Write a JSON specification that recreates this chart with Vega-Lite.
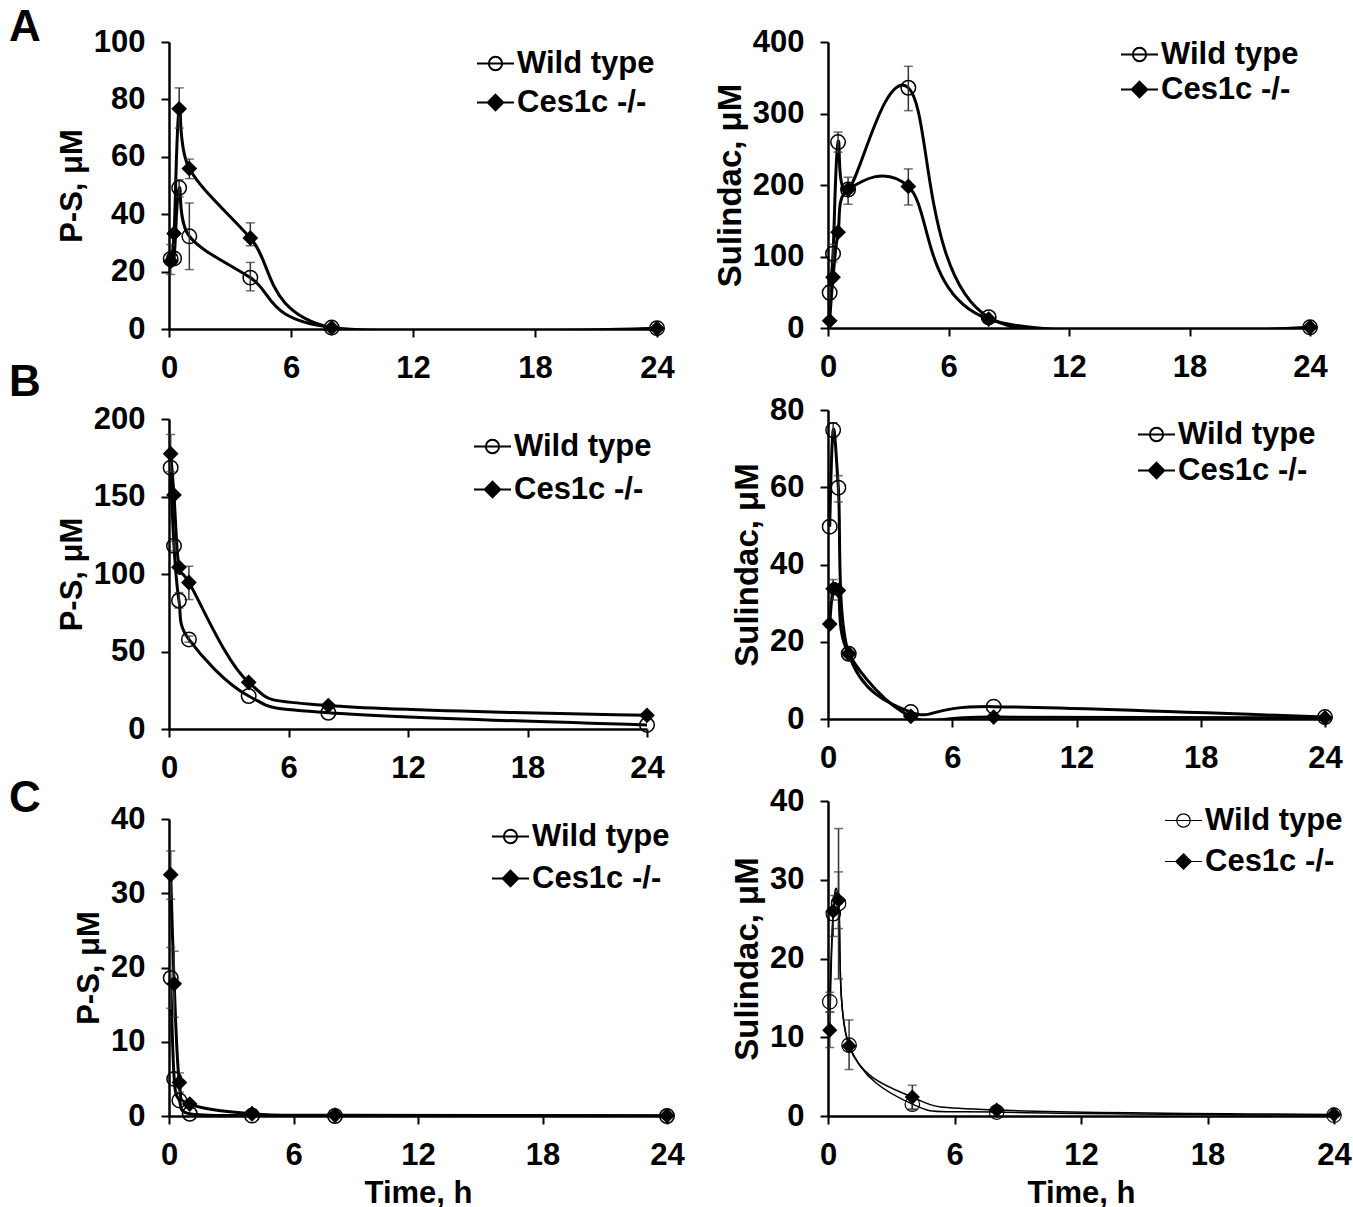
{
  "$schema": "https://vega.github.io/schema/vega-lite/v6.json",
  "padding": {"left": 9, "top": 6, "right": 5, "bottom": 2},
  "config": {
    "font": "Liberation Sans",
    "view": {"stroke": null},
    "axis": {"labelFont": "Liberation Sans", "labelFontWeight": "bold", "labelFontSize": 31, "labelColor": "black", "labelFlush": false, "titleFont": "Liberation Sans", "titleFontWeight": "bold", "titleFontSize": 31, "titleColor": "black", "domainColor": "black", "domainWidth": 2.5, "tickColor": "black", "tickWidth": 2, "tickSize": 8, "grid": false, "labelPadding": 16, "titlePadding": 5},
    "legend": {"title": null, "orient": "none", "padding": 0, "symbolSize": 1369, "symbolStrokeWidth": 2, "labelFont": "Liberation Sans", "labelFontWeight": "bold", "labelFontSize": 31, "labelColor": "black", "labelOffset": 2},
    "title": {"font": "Liberation Sans", "fontWeight": "bold", "fontSize": 44, "color": "black", "anchor": "start", "frame": "group", "dx": -160}
  },
  "datasets": {
    "A1": [
      {"t": 0.083, "g": "Wild type", "v": 24.4, "lo": 19, "hi": 29.4},
      {"t": 0.25, "g": "Wild type", "v": 24.6},
      {"t": 0.5, "g": "Wild type", "v": 49.2, "lo": 46, "hi": 52},
      {"t": 1, "g": "Wild type", "v": 32.3, "lo": 20.7, "hi": 43.9},
      {"t": 4, "g": "Wild type", "v": 17.9, "lo": 13.3, "hi": 23.2},
      {"t": 8, "g": "Wild type", "v": 0.5},
      {"t": 24, "g": "Wild type", "v": 0.3},
      {"t": 0.083, "g": "Ces1c -/-", "v": 23.6},
      {"t": 0.25, "g": "Ces1c -/-", "v": 33.3},
      {"t": 0.5, "g": "Ces1c -/-", "v": 76.7, "lo": 70, "hi": 84},
      {"t": 1, "g": "Ces1c -/-", "v": 55.9, "lo": 52.4, "hi": 59.2},
      {"t": 4, "g": "Ces1c -/-", "v": 31.7, "lo": 29, "hi": 37},
      {"t": 8, "g": "Ces1c -/-", "v": 0.4},
      {"t": 24, "g": "Ces1c -/-", "v": 0.2}
    ],
    "A2": [
      {"t": 0.083, "g": "Wild type", "v": 49.5, "lo": 40, "hi": 59},
      {"t": 0.25, "g": "Wild type", "v": 104, "lo": 92, "hi": 117},
      {"t": 0.5, "g": "Wild type", "v": 260, "lo": 246, "hi": 274},
      {"t": 1, "g": "Wild type", "v": 193.6, "lo": 173, "hi": 211},
      {"t": 4, "g": "Wild type", "v": 336, "lo": 304, "hi": 366},
      {"t": 8, "g": "Wild type", "v": 15},
      {"t": 24, "g": "Wild type", "v": 1},
      {"t": 0.083, "g": "Ces1c -/-", "v": 10},
      {"t": 0.25, "g": "Ces1c -/-", "v": 71},
      {"t": 0.5, "g": "Ces1c -/-", "v": 134},
      {"t": 1, "g": "Ces1c -/-", "v": 193.6},
      {"t": 4, "g": "Ces1c -/-", "v": 198, "lo": 172, "hi": 222.5},
      {"t": 8, "g": "Ces1c -/-", "v": 12.5},
      {"t": 24, "g": "Ces1c -/-", "v": 1}
    ],
    "B1": [
      {"t": 0.083, "g": "Wild type", "v": 168.6},
      {"t": 0.25, "g": "Wild type", "v": 118.2, "lo": 115, "hi": 121},
      {"t": 0.5, "g": "Wild type", "v": 82.9, "lo": 78, "hi": 88},
      {"t": 1, "g": "Wild type", "v": 57.8, "lo": 56, "hi": 60},
      {"t": 4, "g": "Wild type", "v": 21.3},
      {"t": 8, "g": "Wild type", "v": 10.5},
      {"t": 24, "g": "Wild type", "v": 2.6},
      {"t": 0.083, "g": "Ces1c -/-", "v": 177.6, "lo": 166, "hi": 190},
      {"t": 0.25, "g": "Ces1c -/-", "v": 151},
      {"t": 0.5, "g": "Ces1c -/-", "v": 104.4},
      {"t": 1, "g": "Ces1c -/-", "v": 94.5, "lo": 83.5, "hi": 105},
      {"t": 4, "g": "Ces1c -/-", "v": 30.1},
      {"t": 8, "g": "Ces1c -/-", "v": 15.1},
      {"t": 24, "g": "Ces1c -/-", "v": 8.8}
    ],
    "B2": [
      {"t": 0.083, "g": "Wild type", "v": 49.8},
      {"t": 0.25, "g": "Wild type", "v": 74.8, "lo": 73, "hi": 76.7},
      {"t": 0.5, "g": "Wild type", "v": 59.9, "lo": 56.2, "hi": 63},
      {"t": 1, "g": "Wild type", "v": 16.9},
      {"t": 4, "g": "Wild type", "v": 1.8},
      {"t": 8, "g": "Wild type", "v": 3.2},
      {"t": 24, "g": "Wild type", "v": 0.5},
      {"t": 0.083, "g": "Ces1c -/-", "v": 24.6},
      {"t": 0.25, "g": "Ces1c -/-", "v": 33.7, "lo": 30.8, "hi": 36.1},
      {"t": 0.5, "g": "Ces1c -/-", "v": 33.3},
      {"t": 1, "g": "Ces1c -/-", "v": 16.9},
      {"t": 4, "g": "Ces1c -/-", "v": 0.7},
      {"t": 8, "g": "Ces1c -/-", "v": 0.5},
      {"t": 24, "g": "Ces1c -/-", "v": 0.3}
    ],
    "C1": [
      {"t": 0.083, "g": "Wild type", "v": 18.6, "lo": 14.5, "hi": 22.7},
      {"t": 0.25, "g": "Wild type", "v": 5.0},
      {"t": 0.5, "g": "Wild type", "v": 2.1},
      {"t": 1, "g": "Wild type", "v": 0.3},
      {"t": 4, "g": "Wild type", "v": 0.05},
      {"t": 8, "g": "Wild type", "v": 0},
      {"t": 24, "g": "Wild type", "v": 0},
      {"t": 0.083, "g": "Ces1c -/-", "v": 32.5, "lo": 29.2, "hi": 35.7},
      {"t": 0.25, "g": "Ces1c -/-", "v": 17.8, "lo": 13.3, "hi": 22.2},
      {"t": 0.5, "g": "Ces1c -/-", "v": 4.5, "lo": 3.2, "hi": 5.8},
      {"t": 1, "g": "Ces1c -/-", "v": 1.6},
      {"t": 4, "g": "Ces1c -/-", "v": 0.3},
      {"t": 8, "g": "Ces1c -/-", "v": 0.1},
      {"t": 24, "g": "Ces1c -/-", "v": 0.05}
    ],
    "C2": [
      {"t": 0.083, "g": "Wild type", "v": 14.5, "lo": 13.2, "hi": 15.7},
      {"t": 0.25, "g": "Wild type", "v": 25.7, "lo": 22.8, "hi": 28},
      {"t": 0.5, "g": "Wild type", "v": 27, "lo": 23.8, "hi": 31},
      {"t": 1, "g": "Wild type", "v": 9.0},
      {"t": 4, "g": "Wild type", "v": 1.5, "lo": 0.8, "hi": 2.2},
      {"t": 8, "g": "Wild type", "v": 0.5},
      {"t": 24, "g": "Wild type", "v": 0.1},
      {"t": 0.083, "g": "Ces1c -/-", "v": 10.9, "lo": 8.7, "hi": 13.2},
      {"t": 0.25, "g": "Ces1c -/-", "v": 26.0},
      {"t": 0.5, "g": "Ces1c -/-", "v": 27.4, "lo": 17.4, "hi": 36.5},
      {"t": 1, "g": "Ces1c -/-", "v": 8.9, "lo": 5.9, "hi": 12.2},
      {"t": 4, "g": "Ces1c -/-", "v": 2.4, "lo": 0.9, "hi": 3.9},
      {"t": 8, "g": "Ces1c -/-", "v": 0.75},
      {"t": 24, "g": "Ces1c -/-", "v": 0.2}
    ]
  },
  "bounds": "flush",
  "spacing": 659,
  "resolve": {"scale": {"shape": "independent", "fill": "independent"}, "legend": {"shape": "independent", "fill": "independent"}},
  "hconcat": [
    {
      "bounds": "flush",
      "spacing": 90,
      "resolve": {"scale": {"shape": "independent", "fill": "independent"}, "legend": {"shape": "independent", "fill": "independent"}},
      "vconcat": [
        {
          "width": 488, "height": 287,
          "title": {"text": "A", "dy": 28},
          "data": {"name": "A1"},
          "layer": [
            {"mark": {"type": "line", "interpolate": "cardinal", "tension": 0, "color": "black", "strokeWidth": 3, "clip": true},
             "encoding": {"x": {"field": "t", "type": "quantitative", "scale": {"domain": [0, 24]}, "axis": {"values": [0, 6, 12, 18, 24]}, "title": null},
                          "y": {"field": "v", "type": "quantitative", "scale": {"domain": [0, 100]}, "axis": {"values": [0, 20, 40, 60, 80, 100]}, "title": "P-S, μM"},
                          "detail": {"field": "g"}}},
            {"transform": [{"filter": "isValid(datum.lo)"}], "mark": {"type": "rule", "color": "#333", "strokeWidth": 1.5},
             "encoding": {"x": {"field": "t", "type": "quantitative", "scale": {"domain": [0, 24]}, "axis": {"values": [0, 6, 12, 18, 24]}, "title": null},
                          "y": {"field": "lo", "type": "quantitative", "scale": {"domain": [0, 100]}, "axis": {"values": [0, 20, 40, 60, 80, 100]}, "title": "P-S, μM"},
                          "y2": {"field": "hi"}}},
            {"transform": [{"filter": "isValid(datum.lo)"}], "mark": {"type": "tick", "orient": "horizontal", "color": "#333", "size": 9, "thickness": 1.5},
             "encoding": {"x": {"field": "t", "type": "quantitative", "scale": {"domain": [0, 24]}, "axis": {"values": [0, 6, 12, 18, 24]}, "title": null},
                          "y": {"field": "lo", "type": "quantitative", "scale": {"domain": [0, 100]}, "axis": {"values": [0, 20, 40, 60, 80, 100]}, "title": "P-S, μM"}}},
            {"transform": [{"filter": "isValid(datum.hi)"}], "mark": {"type": "tick", "orient": "horizontal", "color": "#333", "size": 9, "thickness": 1.5},
             "encoding": {"x": {"field": "t", "type": "quantitative", "scale": {"domain": [0, 24]}, "axis": {"values": [0, 6, 12, 18, 24]}, "title": null},
                          "y": {"field": "hi", "type": "quantitative", "scale": {"domain": [0, 100]}, "axis": {"values": [0, 20, 40, 60, 80, 100]}, "title": "P-S, μM"}}},
            {"transform": [{"filter": "datum.g === 'Wild type'"}], "mark": {"type": "point", "shape": "circle", "filled": false, "color": "black", "strokeWidth": 1.5, "size": 210, "opacity": 1},
             "encoding": {"x": {"field": "t", "type": "quantitative", "scale": {"domain": [0, 24]}, "axis": {"values": [0, 6, 12, 18, 24]}, "title": null},
                          "y": {"field": "v", "type": "quantitative", "scale": {"domain": [0, 100]}, "axis": {"values": [0, 20, 40, 60, 80, 100]}, "title": "P-S, μM"}}},
            {"transform": [{"filter": "datum.g === 'Ces1c -/-'"}], "mark": {"type": "point", "shape": "diamond", "filled": true, "color": "black", "size": 250, "opacity": 1},
             "encoding": {"x": {"field": "t", "type": "quantitative", "scale": {"domain": [0, 24]}, "axis": {"values": [0, 6, 12, 18, 24]}, "title": null},
                          "y": {"field": "v", "type": "quantitative", "scale": {"domain": [0, 100]}, "axis": {"values": [0, 20, 40, 60, 80, 100]}, "title": "P-S, μM"}}},
            {"mark": {"type": "point", "filled": true, "stroke": "black", "strokeWidth": 2, "size": 0, "opacity": 1},
             "encoding": {"x": {"field": "t", "type": "quantitative", "scale": {"domain": [0, 24]}, "axis": {"values": [0, 6, 12, 18, 24]}, "title": null},
                          "y": {"field": "v", "type": "quantitative", "scale": {"domain": [0, 100]}, "axis": {"values": [0, 20, 40, 60, 80, 100]}, "title": "P-S, μM"},
                          "shape": {"field": "g", "type": "nominal", "scale": {"domain": ["Wild type", "Ces1c -/-"], "range": ["M-1,0L1,0M0.36,0A0.36,0.36,0,1,1,-0.36,0A0.36,0.36,0,1,1,0.36,0Z", "M-1,0L1,0M0,-0.42L0.42,0L0,0.42L-0.42,0Z"]}, "legend": {"legendX": 307, "legendY": 2, "rowPadding": 4}},
                          "fill": {"field": "g", "type": "nominal", "scale": {"domain": ["Wild type", "Ces1c -/-"], "range": ["transparent", "black"]}, "legend": {"legendX": 307, "legendY": 2, "rowPadding": 4}}}}
          ]
        },
        {
          "width": 478, "height": 310,
          "title": {"text": "B", "dy": 6},
          "data": {"name": "B1"},
          "layer": [
            {"mark": {"type": "line", "interpolate": "cardinal", "tension": 0, "color": "black", "strokeWidth": 3, "clip": true},
             "encoding": {"x": {"field": "t", "type": "quantitative", "scale": {"domain": [0, 24]}, "axis": {"values": [0, 6, 12, 18, 24]}, "title": null},
                          "y": {"field": "v", "type": "quantitative", "scale": {"domain": [0, 200]}, "axis": {"values": [0, 50, 100, 150, 200]}, "title": "P-S, μM"},
                          "detail": {"field": "g"}}},
            {"transform": [{"filter": "isValid(datum.lo)"}], "mark": {"type": "rule", "color": "#333", "strokeWidth": 1.5},
             "encoding": {"x": {"field": "t", "type": "quantitative", "scale": {"domain": [0, 24]}, "axis": {"values": [0, 6, 12, 18, 24]}, "title": null},
                          "y": {"field": "lo", "type": "quantitative", "scale": {"domain": [0, 200]}, "axis": {"values": [0, 50, 100, 150, 200]}, "title": "P-S, μM"},
                          "y2": {"field": "hi"}}},
            {"transform": [{"filter": "isValid(datum.lo)"}], "mark": {"type": "tick", "orient": "horizontal", "color": "#333", "size": 9, "thickness": 1.5},
             "encoding": {"x": {"field": "t", "type": "quantitative", "scale": {"domain": [0, 24]}, "axis": {"values": [0, 6, 12, 18, 24]}, "title": null},
                          "y": {"field": "lo", "type": "quantitative", "scale": {"domain": [0, 200]}, "axis": {"values": [0, 50, 100, 150, 200]}, "title": "P-S, μM"}}},
            {"transform": [{"filter": "isValid(datum.hi)"}], "mark": {"type": "tick", "orient": "horizontal", "color": "#333", "size": 9, "thickness": 1.5},
             "encoding": {"x": {"field": "t", "type": "quantitative", "scale": {"domain": [0, 24]}, "axis": {"values": [0, 6, 12, 18, 24]}, "title": null},
                          "y": {"field": "hi", "type": "quantitative", "scale": {"domain": [0, 200]}, "axis": {"values": [0, 50, 100, 150, 200]}, "title": "P-S, μM"}}},
            {"transform": [{"filter": "datum.g === 'Wild type'"}], "mark": {"type": "point", "shape": "circle", "filled": false, "color": "black", "strokeWidth": 1.5, "size": 210, "opacity": 1},
             "encoding": {"x": {"field": "t", "type": "quantitative", "scale": {"domain": [0, 24]}, "axis": {"values": [0, 6, 12, 18, 24]}, "title": null},
                          "y": {"field": "v", "type": "quantitative", "scale": {"domain": [0, 200]}, "axis": {"values": [0, 50, 100, 150, 200]}, "title": "P-S, μM"}}},
            {"transform": [{"filter": "datum.g === 'Ces1c -/-'"}], "mark": {"type": "point", "shape": "diamond", "filled": true, "color": "black", "size": 250, "opacity": 1},
             "encoding": {"x": {"field": "t", "type": "quantitative", "scale": {"domain": [0, 24]}, "axis": {"values": [0, 6, 12, 18, 24]}, "title": null},
                          "y": {"field": "v", "type": "quantitative", "scale": {"domain": [0, 200]}, "axis": {"values": [0, 50, 100, 150, 200]}, "title": "P-S, μM"}}},
            {"mark": {"type": "point", "filled": true, "stroke": "black", "strokeWidth": 2, "size": 0, "opacity": 1},
             "encoding": {"x": {"field": "t", "type": "quantitative", "scale": {"domain": [0, 24]}, "axis": {"values": [0, 6, 12, 18, 24]}, "title": null},
                          "y": {"field": "v", "type": "quantitative", "scale": {"domain": [0, 200]}, "axis": {"values": [0, 50, 100, 150, 200]}, "title": "P-S, μM"},
                          "shape": {"field": "g", "type": "nominal", "scale": {"domain": ["Wild type", "Ces1c -/-"], "range": ["M-1,0L1,0M0.36,0A0.36,0.36,0,1,1,-0.36,0A0.36,0.36,0,1,1,0.36,0Z", "M-1,0L1,0M0,-0.42L0.42,0L0,0.42L-0.42,0Z"]}, "legend": {"legendX": 304, "legendY": 8, "rowPadding": 8}},
                          "fill": {"field": "g", "type": "nominal", "scale": {"domain": ["Wild type", "Ces1c -/-"], "range": ["transparent", "black"]}, "legend": {"legendX": 304, "legendY": 8, "rowPadding": 8}}}}
          ]
        },
        {
          "width": 498, "height": 297,
          "title": {"text": "C", "dy": 22},
          "data": {"name": "C1"},
          "layer": [
            {"mark": {"type": "line", "interpolate": "cardinal", "tension": 0, "color": "black", "strokeWidth": 3, "clip": true},
             "encoding": {"x": {"field": "t", "type": "quantitative", "scale": {"domain": [0, 24]}, "axis": {"values": [0, 6, 12, 18, 24], "titlePadding": 8}, "title": "Time, h"},
                          "y": {"field": "v", "type": "quantitative", "scale": {"domain": [0, 40]}, "axis": {"values": [0, 10, 20, 30, 40]}, "title": "P-S, μM"},
                          "detail": {"field": "g"}}},
            {"transform": [{"filter": "isValid(datum.lo)"}], "mark": {"type": "rule", "color": "#333", "strokeWidth": 1.5},
             "encoding": {"x": {"field": "t", "type": "quantitative", "scale": {"domain": [0, 24]}, "axis": {"values": [0, 6, 12, 18, 24], "titlePadding": 8}, "title": "Time, h"},
                          "y": {"field": "lo", "type": "quantitative", "scale": {"domain": [0, 40]}, "axis": {"values": [0, 10, 20, 30, 40]}, "title": "P-S, μM"},
                          "y2": {"field": "hi"}}},
            {"transform": [{"filter": "isValid(datum.lo)"}], "mark": {"type": "tick", "orient": "horizontal", "color": "#333", "size": 9, "thickness": 1.5},
             "encoding": {"x": {"field": "t", "type": "quantitative", "scale": {"domain": [0, 24]}, "axis": {"values": [0, 6, 12, 18, 24], "titlePadding": 8}, "title": "Time, h"},
                          "y": {"field": "lo", "type": "quantitative", "scale": {"domain": [0, 40]}, "axis": {"values": [0, 10, 20, 30, 40]}, "title": "P-S, μM"}}},
            {"transform": [{"filter": "isValid(datum.hi)"}], "mark": {"type": "tick", "orient": "horizontal", "color": "#333", "size": 9, "thickness": 1.5},
             "encoding": {"x": {"field": "t", "type": "quantitative", "scale": {"domain": [0, 24]}, "axis": {"values": [0, 6, 12, 18, 24], "titlePadding": 8}, "title": "Time, h"},
                          "y": {"field": "hi", "type": "quantitative", "scale": {"domain": [0, 40]}, "axis": {"values": [0, 10, 20, 30, 40]}, "title": "P-S, μM"}}},
            {"transform": [{"filter": "datum.g === 'Wild type'"}], "mark": {"type": "point", "shape": "circle", "filled": false, "color": "black", "strokeWidth": 1.5, "size": 210, "opacity": 1},
             "encoding": {"x": {"field": "t", "type": "quantitative", "scale": {"domain": [0, 24]}, "axis": {"values": [0, 6, 12, 18, 24], "titlePadding": 8}, "title": "Time, h"},
                          "y": {"field": "v", "type": "quantitative", "scale": {"domain": [0, 40]}, "axis": {"values": [0, 10, 20, 30, 40]}, "title": "P-S, μM"}}},
            {"transform": [{"filter": "datum.g === 'Ces1c -/-'"}], "mark": {"type": "point", "shape": "diamond", "filled": true, "color": "black", "size": 250, "opacity": 1},
             "encoding": {"x": {"field": "t", "type": "quantitative", "scale": {"domain": [0, 24]}, "axis": {"values": [0, 6, 12, 18, 24], "titlePadding": 8}, "title": "Time, h"},
                          "y": {"field": "v", "type": "quantitative", "scale": {"domain": [0, 40]}, "axis": {"values": [0, 10, 20, 30, 40]}, "title": "P-S, μM"}}},
            {"mark": {"type": "point", "filled": true, "stroke": "black", "strokeWidth": 2, "size": 0, "opacity": 1},
             "encoding": {"x": {"field": "t", "type": "quantitative", "scale": {"domain": [0, 24]}, "axis": {"values": [0, 6, 12, 18, 24], "titlePadding": 8}, "title": "Time, h"},
                          "y": {"field": "v", "type": "quantitative", "scale": {"domain": [0, 40]}, "axis": {"values": [0, 10, 20, 30, 40]}, "title": "P-S, μM"},
                          "shape": {"field": "g", "type": "nominal", "scale": {"domain": ["Wild type", "Ces1c -/-"], "range": ["M-1,0L1,0M0.36,0A0.36,0.36,0,1,1,-0.36,0A0.36,0.36,0,1,1,0.36,0Z", "M-1,0L1,0M0,-0.42L0.42,0L0,0.42L-0.42,0Z"]}, "legend": {"legendX": 322, "legendY": -2, "rowPadding": 7}},
                          "fill": {"field": "g", "type": "nominal", "scale": {"domain": ["Wild type", "Ces1c -/-"], "range": ["transparent", "black"]}, "legend": {"legendX": 322, "legendY": -2, "rowPadding": 7}}}}
          ]
        }
      ]
    },
    {
      "bounds": "flush",
      "spacing": 82,
      "resolve": {"scale": {"shape": "independent", "fill": "independent"}, "legend": {"shape": "independent", "fill": "independent"}},
      "vconcat": [
        {
          "width": 482, "height": 286,
          "data": {"name": "A2"},
          "layer": [
            {"mark": {"type": "line", "interpolate": "cardinal", "tension": 0, "color": "black", "strokeWidth": 3, "clip": true},
             "encoding": {"x": {"field": "t", "type": "quantitative", "scale": {"domain": [0, 24]}, "axis": {"values": [0, 6, 12, 18, 24]}, "title": null},
                          "y": {"field": "v", "type": "quantitative", "scale": {"domain": [0, 400]}, "axis": {"values": [0, 100, 200, 300, 400], "titleFontSize": 33}, "title": "Sulindac, μM"},
                          "detail": {"field": "g"}}},
            {"transform": [{"filter": "isValid(datum.lo)"}], "mark": {"type": "rule", "color": "#333", "strokeWidth": 1.5},
             "encoding": {"x": {"field": "t", "type": "quantitative", "scale": {"domain": [0, 24]}, "axis": {"values": [0, 6, 12, 18, 24]}, "title": null},
                          "y": {"field": "lo", "type": "quantitative", "scale": {"domain": [0, 400]}, "axis": {"values": [0, 100, 200, 300, 400], "titleFontSize": 33}, "title": "Sulindac, μM"},
                          "y2": {"field": "hi"}}},
            {"transform": [{"filter": "isValid(datum.lo)"}], "mark": {"type": "tick", "orient": "horizontal", "color": "#333", "size": 9, "thickness": 1.5},
             "encoding": {"x": {"field": "t", "type": "quantitative", "scale": {"domain": [0, 24]}, "axis": {"values": [0, 6, 12, 18, 24]}, "title": null},
                          "y": {"field": "lo", "type": "quantitative", "scale": {"domain": [0, 400]}, "axis": {"values": [0, 100, 200, 300, 400], "titleFontSize": 33}, "title": "Sulindac, μM"}}},
            {"transform": [{"filter": "isValid(datum.hi)"}], "mark": {"type": "tick", "orient": "horizontal", "color": "#333", "size": 9, "thickness": 1.5},
             "encoding": {"x": {"field": "t", "type": "quantitative", "scale": {"domain": [0, 24]}, "axis": {"values": [0, 6, 12, 18, 24]}, "title": null},
                          "y": {"field": "hi", "type": "quantitative", "scale": {"domain": [0, 400]}, "axis": {"values": [0, 100, 200, 300, 400], "titleFontSize": 33}, "title": "Sulindac, μM"}}},
            {"transform": [{"filter": "datum.g === 'Wild type'"}], "mark": {"type": "point", "shape": "circle", "filled": false, "color": "black", "strokeWidth": 1.5, "size": 210, "opacity": 1},
             "encoding": {"x": {"field": "t", "type": "quantitative", "scale": {"domain": [0, 24]}, "axis": {"values": [0, 6, 12, 18, 24]}, "title": null},
                          "y": {"field": "v", "type": "quantitative", "scale": {"domain": [0, 400]}, "axis": {"values": [0, 100, 200, 300, 400], "titleFontSize": 33}, "title": "Sulindac, μM"}}},
            {"transform": [{"filter": "datum.g === 'Ces1c -/-'"}], "mark": {"type": "point", "shape": "diamond", "filled": true, "color": "black", "size": 250, "opacity": 1},
             "encoding": {"x": {"field": "t", "type": "quantitative", "scale": {"domain": [0, 24]}, "axis": {"values": [0, 6, 12, 18, 24]}, "title": null},
                          "y": {"field": "v", "type": "quantitative", "scale": {"domain": [0, 400]}, "axis": {"values": [0, 100, 200, 300, 400], "titleFontSize": 33}, "title": "Sulindac, μM"}}},
            {"mark": {"type": "point", "filled": true, "stroke": "black", "strokeWidth": 2, "size": 0, "opacity": 1},
             "encoding": {"x": {"field": "t", "type": "quantitative", "scale": {"domain": [0, 24]}, "axis": {"values": [0, 6, 12, 18, 24]}, "title": null},
                          "y": {"field": "v", "type": "quantitative", "scale": {"domain": [0, 400]}, "axis": {"values": [0, 100, 200, 300, 400], "titleFontSize": 33}, "title": "Sulindac, μM"},
                          "shape": {"field": "g", "type": "nominal", "scale": {"domain": ["Wild type", "Ces1c -/-"], "range": ["M-1,0L1,0M0.36,0A0.36,0.36,0,1,1,-0.36,0A0.36,0.36,0,1,1,0.36,0Z", "M-1,0L1,0M0,-0.42L0.42,0L0,0.42L-0.42,0Z"]}, "legend": {"legendX": 292, "legendY": -7, "rowPadding": 0}},
                          "fill": {"field": "g", "type": "nominal", "scale": {"domain": ["Wild type", "Ces1c -/-"], "range": ["transparent", "black"]}, "legend": {"legendX": 292, "legendY": -7, "rowPadding": 0}}}}
          ]
        },
        {
          "width": 497, "height": 309,
          "data": {"name": "B2"},
          "layer": [
            {"mark": {"type": "line", "interpolate": "cardinal", "tension": 0, "color": "black", "strokeWidth": 3, "clip": true},
             "encoding": {"x": {"field": "t", "type": "quantitative", "scale": {"domain": [0, 24]}, "axis": {"values": [0, 6, 12, 18, 24]}, "title": null},
                          "y": {"field": "v", "type": "quantitative", "scale": {"domain": [0, 80]}, "axis": {"values": [0, 20, 40, 60, 80], "titleFontSize": 33}, "title": "Sulindac, μM"},
                          "detail": {"field": "g"}}},
            {"transform": [{"filter": "isValid(datum.lo)"}], "mark": {"type": "rule", "color": "#333", "strokeWidth": 1.5},
             "encoding": {"x": {"field": "t", "type": "quantitative", "scale": {"domain": [0, 24]}, "axis": {"values": [0, 6, 12, 18, 24]}, "title": null},
                          "y": {"field": "lo", "type": "quantitative", "scale": {"domain": [0, 80]}, "axis": {"values": [0, 20, 40, 60, 80], "titleFontSize": 33}, "title": "Sulindac, μM"},
                          "y2": {"field": "hi"}}},
            {"transform": [{"filter": "isValid(datum.lo)"}], "mark": {"type": "tick", "orient": "horizontal", "color": "#333", "size": 9, "thickness": 1.5},
             "encoding": {"x": {"field": "t", "type": "quantitative", "scale": {"domain": [0, 24]}, "axis": {"values": [0, 6, 12, 18, 24]}, "title": null},
                          "y": {"field": "lo", "type": "quantitative", "scale": {"domain": [0, 80]}, "axis": {"values": [0, 20, 40, 60, 80], "titleFontSize": 33}, "title": "Sulindac, μM"}}},
            {"transform": [{"filter": "isValid(datum.hi)"}], "mark": {"type": "tick", "orient": "horizontal", "color": "#333", "size": 9, "thickness": 1.5},
             "encoding": {"x": {"field": "t", "type": "quantitative", "scale": {"domain": [0, 24]}, "axis": {"values": [0, 6, 12, 18, 24]}, "title": null},
                          "y": {"field": "hi", "type": "quantitative", "scale": {"domain": [0, 80]}, "axis": {"values": [0, 20, 40, 60, 80], "titleFontSize": 33}, "title": "Sulindac, μM"}}},
            {"transform": [{"filter": "datum.g === 'Wild type'"}], "mark": {"type": "point", "shape": "circle", "filled": false, "color": "black", "strokeWidth": 1.5, "size": 210, "opacity": 1},
             "encoding": {"x": {"field": "t", "type": "quantitative", "scale": {"domain": [0, 24]}, "axis": {"values": [0, 6, 12, 18, 24]}, "title": null},
                          "y": {"field": "v", "type": "quantitative", "scale": {"domain": [0, 80]}, "axis": {"values": [0, 20, 40, 60, 80], "titleFontSize": 33}, "title": "Sulindac, μM"}}},
            {"transform": [{"filter": "datum.g === 'Ces1c -/-'"}], "mark": {"type": "point", "shape": "diamond", "filled": true, "color": "black", "size": 250, "opacity": 1},
             "encoding": {"x": {"field": "t", "type": "quantitative", "scale": {"domain": [0, 24]}, "axis": {"values": [0, 6, 12, 18, 24]}, "title": null},
                          "y": {"field": "v", "type": "quantitative", "scale": {"domain": [0, 80]}, "axis": {"values": [0, 20, 40, 60, 80], "titleFontSize": 33}, "title": "Sulindac, μM"}}},
            {"mark": {"type": "point", "filled": true, "stroke": "black", "strokeWidth": 2, "size": 0, "opacity": 1},
             "encoding": {"x": {"field": "t", "type": "quantitative", "scale": {"domain": [0, 24]}, "axis": {"values": [0, 6, 12, 18, 24]}, "title": null},
                          "y": {"field": "v", "type": "quantitative", "scale": {"domain": [0, 80]}, "axis": {"values": [0, 20, 40, 60, 80], "titleFontSize": 33}, "title": "Sulindac, μM"},
                          "shape": {"field": "g", "type": "nominal", "scale": {"domain": ["Wild type", "Ces1c -/-"], "range": ["M-1,0L1,0M0.36,0A0.36,0.36,0,1,1,-0.36,0A0.36,0.36,0,1,1,0.36,0Z", "M-1,0L1,0M0,-0.42L0.42,0L0,0.42L-0.42,0Z"]}, "legend": {"legendX": 309, "legendY": 5, "rowPadding": 1}},
                          "fill": {"field": "g", "type": "nominal", "scale": {"domain": ["Wild type", "Ces1c -/-"], "range": ["transparent", "black"]}, "legend": {"legendX": 309, "legendY": 5, "rowPadding": 1}}}}
          ]
        },
        {
          "width": 506, "height": 315,
          "data": {"name": "C2"},
          "layer": [
            {"mark": {"type": "line", "interpolate": "cardinal", "tension": 0, "color": "black", "strokeWidth": 1.5, "clip": true},
             "encoding": {"x": {"field": "t", "type": "quantitative", "scale": {"domain": [0, 24]}, "axis": {"values": [0, 6, 12, 18, 24], "titlePadding": 8}, "title": "Time, h"},
                          "y": {"field": "v", "type": "quantitative", "scale": {"domain": [0, 40]}, "axis": {"values": [0, 10, 20, 30, 40], "titleFontSize": 33}, "title": "Sulindac, μM"},
                          "detail": {"field": "g"}}},
            {"transform": [{"filter": "isValid(datum.lo)"}], "mark": {"type": "rule", "color": "#333", "strokeWidth": 1.5},
             "encoding": {"x": {"field": "t", "type": "quantitative", "scale": {"domain": [0, 24]}, "axis": {"values": [0, 6, 12, 18, 24], "titlePadding": 8}, "title": "Time, h"},
                          "y": {"field": "lo", "type": "quantitative", "scale": {"domain": [0, 40]}, "axis": {"values": [0, 10, 20, 30, 40], "titleFontSize": 33}, "title": "Sulindac, μM"},
                          "y2": {"field": "hi"}}},
            {"transform": [{"filter": "isValid(datum.lo)"}], "mark": {"type": "tick", "orient": "horizontal", "color": "#333", "size": 9, "thickness": 1.5},
             "encoding": {"x": {"field": "t", "type": "quantitative", "scale": {"domain": [0, 24]}, "axis": {"values": [0, 6, 12, 18, 24], "titlePadding": 8}, "title": "Time, h"},
                          "y": {"field": "lo", "type": "quantitative", "scale": {"domain": [0, 40]}, "axis": {"values": [0, 10, 20, 30, 40], "titleFontSize": 33}, "title": "Sulindac, μM"}}},
            {"transform": [{"filter": "isValid(datum.hi)"}], "mark": {"type": "tick", "orient": "horizontal", "color": "#333", "size": 9, "thickness": 1.5},
             "encoding": {"x": {"field": "t", "type": "quantitative", "scale": {"domain": [0, 24]}, "axis": {"values": [0, 6, 12, 18, 24], "titlePadding": 8}, "title": "Time, h"},
                          "y": {"field": "hi", "type": "quantitative", "scale": {"domain": [0, 40]}, "axis": {"values": [0, 10, 20, 30, 40], "titleFontSize": 33}, "title": "Sulindac, μM"}}},
            {"transform": [{"filter": "datum.g === 'Wild type'"}], "mark": {"type": "point", "shape": "circle", "filled": false, "color": "black", "strokeWidth": 1.2, "size": 210, "opacity": 1},
             "encoding": {"x": {"field": "t", "type": "quantitative", "scale": {"domain": [0, 24]}, "axis": {"values": [0, 6, 12, 18, 24], "titlePadding": 8}, "title": "Time, h"},
                          "y": {"field": "v", "type": "quantitative", "scale": {"domain": [0, 40]}, "axis": {"values": [0, 10, 20, 30, 40], "titleFontSize": 33}, "title": "Sulindac, μM"}}},
            {"transform": [{"filter": "datum.g === 'Ces1c -/-'"}], "mark": {"type": "point", "shape": "diamond", "filled": true, "color": "black", "size": 230, "opacity": 1},
             "encoding": {"x": {"field": "t", "type": "quantitative", "scale": {"domain": [0, 24]}, "axis": {"values": [0, 6, 12, 18, 24], "titlePadding": 8}, "title": "Time, h"},
                          "y": {"field": "v", "type": "quantitative", "scale": {"domain": [0, 40]}, "axis": {"values": [0, 10, 20, 30, 40], "titleFontSize": 33}, "title": "Sulindac, μM"}}},
            {"mark": {"type": "point", "filled": true, "stroke": "black", "strokeWidth": 1.2, "size": 0, "opacity": 1},
             "encoding": {"x": {"field": "t", "type": "quantitative", "scale": {"domain": [0, 24]}, "axis": {"values": [0, 6, 12, 18, 24], "titlePadding": 8}, "title": "Time, h"},
                          "y": {"field": "v", "type": "quantitative", "scale": {"domain": [0, 40]}, "axis": {"values": [0, 10, 20, 30, 40], "titleFontSize": 33}, "title": "Sulindac, μM"},
                          "shape": {"field": "g", "type": "nominal", "scale": {"domain": ["Wild type", "Ces1c -/-"], "range": ["M-1,0L1,0M0.36,0A0.36,0.36,0,1,1,-0.36,0A0.36,0.36,0,1,1,0.36,0Z", "M-1,0L1,0M0,-0.42L0.42,0L0,0.42L-0.42,0Z"]}, "legend": {"legendX": 336, "legendY": 0, "rowPadding": 6, "symbolStrokeWidth": 1.2}},
                          "fill": {"field": "g", "type": "nominal", "scale": {"domain": ["Wild type", "Ces1c -/-"], "range": ["transparent", "black"]}, "legend": {"legendX": 336, "legendY": 0, "rowPadding": 6, "symbolStrokeWidth": 1.2}}}}
          ]
        }
      ]
    }
  ]
}
